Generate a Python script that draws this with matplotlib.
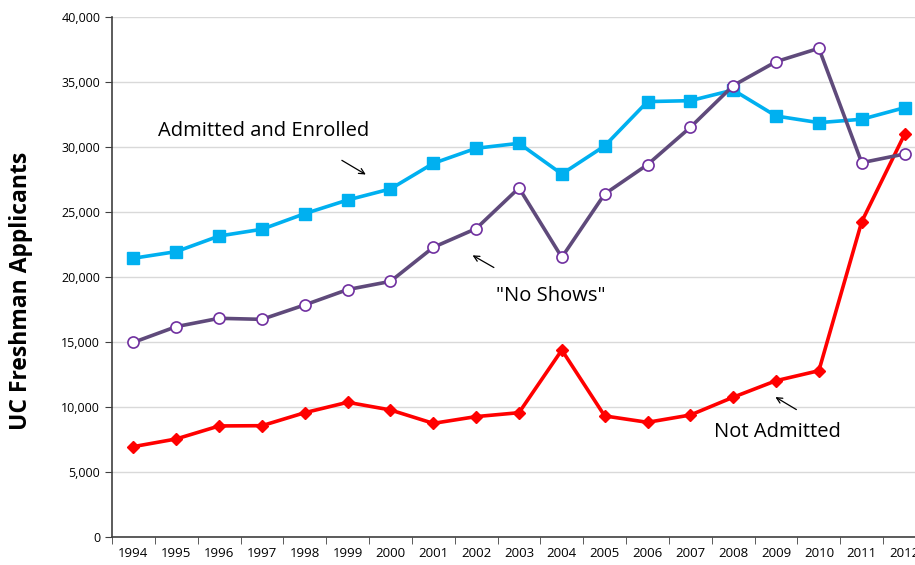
import numpy as np
import matplotlib
matplotlib.use("Agg")
import matplotlib.pyplot as plt
from matplotlib.ticker import FuncFormatter, FixedLocator

plt.rcParams['font.family'] = ['Open Sans', 'DejaVu Sans']

years = ['1994', '1995', '1996', '1997', '1998', '1999', '2000', '2001', '2002', '2003',
         '2004', '2005', '2006', '2007', '2008', '2009', '2010', '2011', '2012']

# Admitted and Enrolled
enrolled = [21440, 21950, 23150, 23670, 24870, 25920, 26770, 28740, 29900, 30280,
            27920, 30080, 33490, 33560, 34380, 32380, 31870, 32130, 33020]
# "No Shows"
no_shows = [14970, 16180, 16820, 16740, 17850, 19030, 19660, 22280, 23720, 26850,
            21510, 26380, 28640, 31510, 34720, 36560, 37590, 28790, 29460]
# Not Admitted
not_admitted = [6950, 7540, 8540, 8560, 9560, 10360, 9770, 8740, 9260, 9560,
                14380, 9310, 8820, 9380, 10750, 12020, 12790, 24250, 30970]

x = np.arange(len(years))

fig = plt.figure(figsize=(9.15, 5.65), dpi=100)
ax = fig.add_axes([0.1224, 0.0496, 0.8896, 0.9204])

ax.plot(x, enrolled, color='#00B0F0', lw=2.6, marker='s', markersize=9,
        markerfacecolor='#00B0F0', markeredgecolor='#00B0F0', zorder=3)
ax.plot(x, no_shows, color='#5F4A7B', lw=2.6, marker='o', markersize=8,
        markerfacecolor='white', markeredgecolor='#7030A0', markeredgewidth=1.2, zorder=4)
ax.plot(x, not_admitted, color='#FF0000', lw=2.6, marker='D', markersize=6.5,
        markerfacecolor='#FF0000', markeredgecolor='#FF0000', zorder=3)

ax.set_xlim(-0.5, len(years) - 0.5)
ax.set_ylim(0, 40000)
ax.set_yticks(np.arange(0, 40001, 5000))
ax.yaxis.set_major_formatter(FuncFormatter(lambda v, p: f'{int(v):,}'))
ax.yaxis.grid(True, color='#D9D9D9', lw=1)
ax.set_axisbelow(True)

ax.set_xticks(x)
ax.set_xticklabels(years, fontsize=9.5)
ax.tick_params(axis='x', which='major', length=0, pad=7)
ax.xaxis.set_minor_locator(FixedLocator(np.arange(-0.5, len(years), 1)))
ax.tick_params(axis='x', which='minor', length=5, color='#404040', direction='out')
ax.tick_params(axis='y', length=5, color='#404040', labelsize=9)

for s in ['top', 'right']:
    ax.spines[s].set_visible(False)
for s in ['left', 'bottom']:
    ax.spines[s].set_color('#404040')
    ax.spines[s].set_linewidth(1.2)

ax.set_ylabel('UC Freshman Applicants', fontsize=16.5, fontweight='bold')
ax.yaxis.set_label_coords(-0.097, 0.473)

arrow = dict(arrowstyle='->', color='black', lw=0.9)
ax.text(3.04, 31230, 'Admitted and Enrolled', fontsize=14.5, ha='center', va='center')
ax.annotate('', xy=(5.48, 27770), xytext=(4.81, 29080), arrowprops=arrow)
ax.text(9.73, 18540, '"No Shows"', fontsize=14.5, ha='center', va='center')
ax.annotate('', xy=(7.86, 21770), xytext=(8.47, 20620), arrowprops=arrow)
ax.text(15.03, 8100, 'Not Admitted', fontsize=14.5, ha='center', va='center')
ax.annotate('', xy=(14.93, 10870), xytext=(15.53, 9690), arrowprops=arrow)

fig.savefig('out.png', dpi=100)
